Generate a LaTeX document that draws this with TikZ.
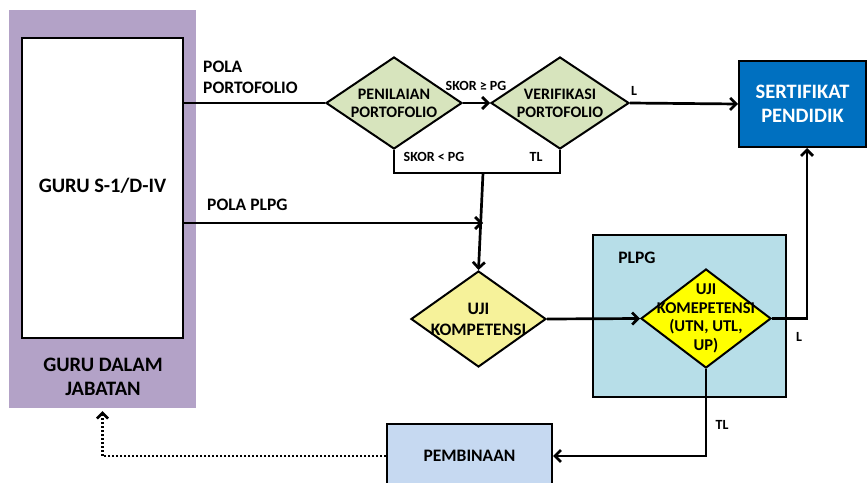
\documentclass[tikz,border=0pt]{standalone}
\usepackage{fontspec}
\setmainfont{Carlito}
\usetikzlibrary{shapes.geometric,arrows.meta}
\definecolor{purp}{HTML}{B3A2C7}
\definecolor{pgreen}{HTML}{D7E4BD}
\definecolor{pyel}{HTML}{F6F29A}
\definecolor{yel}{HTML}{FFFF00}
\definecolor{plpgc}{HTML}{B7DEE8}
\definecolor{pembc}{HTML}{C6D9F1}
\definecolor{sertc}{HTML}{0070C0}
\begin{document}
\begin{tikzpicture}[x=1pt,y=-1pt,
  box/.style={draw=black,line width=2pt,rectangle,inner sep=0pt},
  dia/.style={draw=black,line width=2pt,diamond,inner sep=0pt},
  conn/.style={line width=2.7pt,-{Straight Barb[length=6pt,width=12pt]}},
  plainline/.style={line width=2.7pt},
  dotline/.style={line width=2.6pt,dash pattern=on 2pt off 2pt,-{Straight Barb[length=5.5pt,width=11pt]}},
  t14/.style={font=\bfseries\fontsize{14}{16}\selectfont,inner sep=0pt},
  t16/.style={font=\bfseries\fontsize{16}{18}\selectfont,inner sep=0pt,align=center},
  tk/.style={font=\bfseries\fontsize{16.5}{18.7}\selectfont,inner sep=0pt,align=center},
  t17/.style={font=\bfseries\fontsize{17.5}{21}\selectfont,inner sep=0pt,align=center},
  t20/.style={font=\bfseries\fontsize{20.5}{24.5}\selectfont,inner sep=0pt,align=center},
]
\useasboundingbox (0,0) rectangle (867,482);

% left panel
\node[rectangle,fill=purp,minimum width=187pt,minimum height=398pt,inner sep=0pt] (purple) at (102.5,209) {};
\node[box,fill=white,minimum width=161pt,minimum height=300pt] (guru) at (102.5,188) {};
\node[t20] (gurut) at (102.5,186) {GURU S-1/D-IV};
\node[t20] (jab) at (103,377) {GURU DALAM\\JABATAN};

% top row
\node[dia,fill=pgreen,minimum width=136pt,minimum height=92pt,
  label={[t16]center:PENILAIAN\\PORTOFOLIO}] (pen) at (394,103) {};
\node[dia,fill=pgreen,minimum width=138pt,minimum height=92pt,
  label={[t16]center:VERIFIKASI\\PORTOFOLIO}] (ver) at (560,103) {};
\node[box,fill=sertc,minimum width=127pt,minimum height=86pt,text=white,t20] (sert) at (802.5,104) {SERTIFIKAT\\PENDIDIK};

% middle
\node[dia,fill=pyel,minimum width=135pt,minimum height=96pt,
  label={[t17]center:UJI\\KOMPETENSI}] (uk) at (478.5,319) {};
\node[box,fill=plpgc,minimum width=193pt,minimum height=162pt] (plpg) at (689.5,316) {};
\node[t17] (plpgt) at (637,258) {PLPG};
\node[dia,fill=yel,minimum width=130pt,minimum height=99pt,
  label={[tk]center:UJI\\KOMEPETENSI\\(UTN, UTL,\\UP)}] (uk2) at (706,318.5) {};

% bottom
\node[box,fill=pembc,minimum width=165pt,minimum height=64pt,t17] (pemb) at (469.5,456) {PEMBINAAN};

% coordinates
\coordinate (j) at (483,173);
\coordinate (jp) at (483,223);

% connectors
\draw[plainline] (guru.east |- pen.west) -- (pen.west);
\draw[conn] (pen.east) -- (ver.west);
\draw[conn] (ver.east) -- (sert.west);
\draw[plainline] (pen.south) |- (j) -| (ver.south);
\draw[conn] (j) -- (uk.north);
\draw[conn] (guru.east |- jp) -- (jp);
\draw[conn] (uk.east) -- (uk2.west);
\draw[conn] (uk2.east) -| ([xshift=4.5pt]sert.south);
\draw[conn] (uk2.south) |- (pemb.east);
\draw[dotline,shorten >=3pt] (pemb.west) -| (purple.south);

% labels
\node[t17,align=left,anchor=west] (lpp) at (203,77.5) {POLA\\PORTOFOLIO};
\node[t17,anchor=west] (lplpg) at (207,205) {POLA PLPG};
\node[t14] (lge) at (476,86) {SKOR ≥ PG};
\node[t14] (llt) at (434,157) {SKOR < PG};
\node[t14] (ltl1) at (536,157) {TL};
\node[t14] (ll1) at (634,91) {L};
\node[t14] (ll2) at (799,337) {L};
\node[t14] (ltl2) at (722,425) {TL};
\end{tikzpicture}
\end{document}
